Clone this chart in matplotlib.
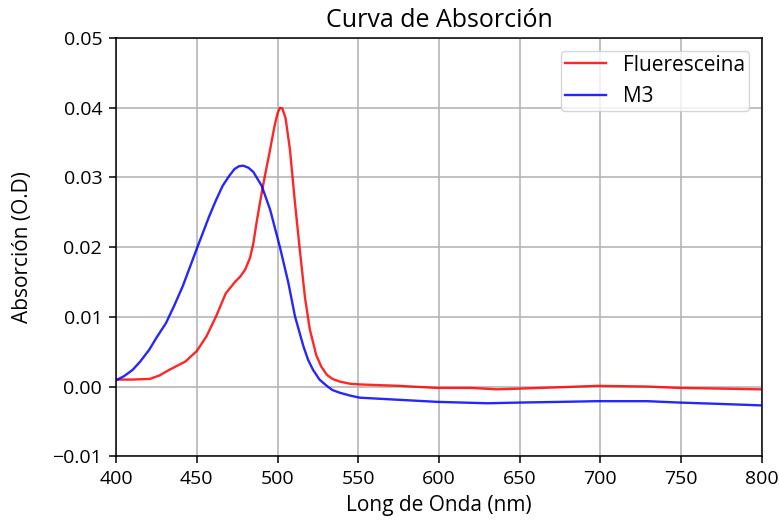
import matplotlib.pyplot as plt

plt.rcParams['font.family'] = ['Open Sans', 'DejaVu Sans']

# values
wl_fluo = [400, 410, 421, 427, 433, 443, 450, 456, 462, 468, 474, 477, 480, 483, 485, 487, 489, 491, 493, 495,
           498, 500, 501.5, 503, 505, 507.7, 510.8, 514, 517, 520, 524, 527, 530.5, 534, 538.7, 545, 551, 575,
           599, 620, 636, 650, 675, 698, 729, 749, 775, 799]
abs_fluo = [0.0010, 0.0010, 0.0011, 0.0016, 0.0024, 0.0036, 0.0051, 0.0072, 0.0101, 0.0134, 0.0151, 0.0158,
            0.0168, 0.0185, 0.0205, 0.0235, 0.0262, 0.0288, 0.0312, 0.0335, 0.0372, 0.0392, 0.0400, 0.0399,
            0.0385, 0.0340, 0.0264, 0.0192, 0.0128, 0.0082, 0.0045, 0.0029, 0.0017, 0.0011, 0.0007, 0.0004,
            0.0003, 0.0001, -0.0002, -0.0002, -0.0004, -0.0003, -0.0001, 0.0001, 0.0000, -0.0002, -0.0003,
            -0.0004]

wl_m3 = [400, 405, 410.3, 415, 420.6, 425, 430.9, 436, 441.3, 450.2, 457.8, 462, 466, 470, 473.3, 476, 478.6,
         482, 485, 490.2, 495.4, 501.5, 506.7, 510.8, 516, 519, 522, 526, 530.5, 534, 538.7, 545, 551, 575,
         599, 630, 650, 675, 698, 729, 749, 775, 799]
abs_m3 = [0.0009, 0.0015, 0.0024, 0.0036, 0.0053, 0.0070, 0.0091, 0.0116, 0.0144, 0.0199, 0.0245, 0.0268,
          0.0288, 0.0302, 0.0312, 0.0316, 0.0317, 0.0314, 0.0308, 0.0288, 0.0254, 0.0200, 0.0149, 0.0101,
          0.0058, 0.0038, 0.0024, 0.0010, 0.0001, -0.0005, -0.0009, -0.0013, -0.0016, -0.0019, -0.0022,
          -0.0024, -0.0023, -0.0022, -0.0021, -0.0021, -0.0023, -0.0025, -0.0027]

fig = plt.figure(figsize=(7.79, 5.22), dpi=100)
ax = fig.add_axes([0.149, 0.126, 0.829, 0.801])

ax.plot(wl_fluo, abs_fluo, color='red', alpha=0.85, linewidth=1.7, label='Flueresceina')
ax.plot(wl_m3, abs_m3, color='blue', alpha=0.85, linewidth=1.7, label='M3')

ax.set_xlim(400, 800)
ax.set_ylim(-0.01, 0.05)
ax.set_yticks([-0.01, 0.00, 0.01, 0.02, 0.03, 0.04, 0.05])
ax.set_yticklabels(['\u22120.01', '0.00', '0.01', '0.02', '0.03', '0.04', '0.05'])
ax.grid(True, color='#b0b0b0', linewidth=1.1)
ax.tick_params(labelsize=14, length=5, width=1.1, pad=5)
for s in ax.spines.values():
    s.set_linewidth(1.1)

ax.set_title('Curva de Absorción', fontsize=18, pad=8)
ax.set_xlabel('Long de Onda (nm)', fontsize=15, labelpad=5)
ax.set_ylabel('Absorción (O.D)', fontsize=15, labelpad=14)
ax.legend(loc='upper right', fontsize=15, borderpad=0.2, borderaxespad=0.6)

fig.savefig('out.png', dpi=100)
